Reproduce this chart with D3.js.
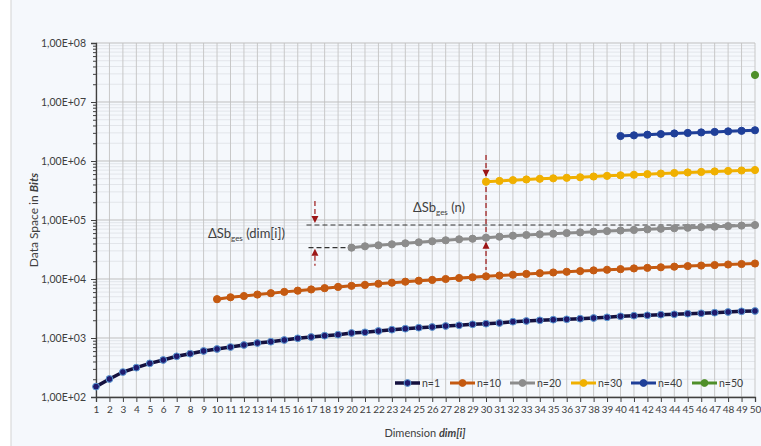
<!DOCTYPE html>
<html>
<head>
<meta charset="utf-8">
<script src="https://cdn.jsdelivr.net/npm/d3@7"></script>
<style>
  body { margin: 0; background: #fff; }
  svg text { font-family: Lato, "Open Sans", sans-serif; fill: #404040; }
</style>
</head>
<body>
<svg id="chart" width="761" height="446"></svg>
<script>
// values
const dims = d3.range(1, 51);
const n1 = [150, 202, 265, 314, 372, 424, 490, 542, 602, 651, 703, 761, 823, 865, 925, 989, 1040, 1094, 1138, 1216,
  1250, 1315, 1383, 1438, 1495, 1536, 1597, 1641, 1707, 1747, 1795, 1888, 1940, 1994, 2042, 2075, 2124, 2182, 2243, 2333,
  2388, 2426, 2484, 2523, 2583, 2624, 2685, 2760, 2836, 2870];
const n10 = [4550, 4900, 5150, 5450, 5750, 6050, 6350, 6650, 7000, 7350, 7650, 7950, 8300, 8650, 9000, 9350, 9650,
  10000, 10400, 10700, 11100, 11450, 11800, 12200, 12550, 12900, 13250, 13600, 14000, 14350, 14700, 15100, 15450,
  15800, 16200, 16550, 16900, 17250, 17600, 17950, 18300];
const n20 = [33960, 35810, 37240, 38730, 40270, 41880, 43550, 45290, 47100, 48190, 50120, 52120, 54200, 55720, 57150,
  58610, 60120, 61660, 63390, 64860, 66370, 67920, 69500, 70960, 72440, 73960, 75510, 77090, 78700, 80350, 82220];
const n30 = [445700, 459200, 473200, 486400, 498900, 508200, 518800, 529700, 545800, 559800, 572800, 584800, 598400,
  612300, 626600, 639700, 653100, 665300, 677700, 690200, 703100];
const n40 = [2650000, 2720000, 2790000, 2860000, 2930000, 2990000, 3050000, 3110000, 3180000, 3250000, 3320000];
const n50 = [28700000];
const seriesNames = ["n=1", "n=10", "n=20", "n=30", "n=40", "n=50"];
const seriesStart = [1, 10, 20, 30, 40, 50];
const seriesValues = [n1, n10, n20, n30, n40, n50];
const seriesColors = ["#15113f", "#c55a11", "#8c8c8c", "#f0b000", "#1f3f99", "#4f8f2a"];
const yTicks = [1e2, 1e3, 1e4, 1e5, 1e6, 1e7, 1e8];

const svg = d3.select("#chart");
const W = 761, H = 446;
const mLeft = 96, mRight = 755, mTop = 43, mBottom = 397;

svg.append("rect").attr("x", 0).attr("y", 0).attr("width", W).attr("height", H).attr("fill", "#fff");
svg.append("rect").attr("x", 11).attr("y", -2).attr("width", W).attr("height", H + 4)
  .attr("fill", "#f5f8fc").attr("stroke", "#d4d4d4");

const x = d3.scaleLinear().domain([1, 50]).range([mLeft, mRight]);
const y = d3.scaleLog().domain([1e2, 1e8]).range([mBottom, mTop]);

const minorVals = [];
yTicks.slice(0, -1).forEach(d => { for (let k = 2; k <= 9; k++) minorVals.push(d * k); });

// grid
const g = svg.append("g");
g.selectAll(".hminor").data(minorVals).join("line")
  .attr("x1", mLeft).attr("x2", mRight).attr("y1", d => y(d)).attr("y2", d => y(d))
  .attr("stroke", "#e2e5ea").attr("stroke-width", 1);
g.selectAll(".v").data(dims).join("line")
  .attr("x1", d => x(d)).attr("x2", d => x(d)).attr("y1", mTop).attr("y2", mBottom)
  .attr("stroke", "#c8c8c8").attr("stroke-width", 1);
g.selectAll(".hmajor").data(yTicks).join("line")
  .attr("x1", mLeft).attr("x2", mRight).attr("y1", d => y(d)).attr("y2", d => y(d))
  .attr("stroke", "#bfbfbf").attr("stroke-width", 1);

// axes
const fmt = d => "1,00E+" + String(Math.round(Math.log10(d))).padStart(2, "0");
const yAxis = svg.append("g").attr("transform", `translate(${mLeft},0)`)
  .call(d3.axisLeft(y).tickValues(yTicks).tickFormat(fmt).tickSize(5).tickPadding(5));
svg.append("g").attr("transform", `translate(${mLeft},0)`)
  .call(d3.axisLeft(y).tickValues(minorVals).tickFormat("").tickSize(3))
  .select(".domain").remove();
const xAxis = svg.append("g").attr("transform", `translate(0,${mBottom})`)
  .call(d3.axisBottom(x).tickValues(dims).tickFormat(d3.format("d")).tickSize(5).tickPadding(4));
svg.selectAll(".domain").attr("stroke", "#404040").attr("stroke-width", 1.3);
svg.selectAll(".tick line").attr("stroke", "#404040");
yAxis.selectAll("text").style("font-size", "10.5px").attr("fill", "#404040");
xAxis.selectAll("text").style("font-size", "10px").attr("fill", "#404040");

// axis titles
const xt = svg.append("text").attr("x", 425).attr("y", 437).attr("text-anchor", "middle").style("font-size", "11px");
xt.append("tspan").text("Dimension ");
xt.append("tspan").text("dim[i]").style("font-weight", "bold").style("font-style", "italic");
const yt = svg.append("text").attr("transform", "translate(38,220) rotate(-90)").attr("text-anchor", "middle")
  .style("font-size", "12px");
yt.append("tspan").text("Data Space in ");
yt.append("tspan").text("Bits").style("font-weight", "bold").style("font-style", "italic");

// annotations
const ann = svg.append("g");
const dash = (x1, y1, x2, y2, col) => ann.append("line").attr("x1", x1).attr("y1", y1).attr("x2", x2).attr("y2", y2)
  .attr("stroke", col).attr("stroke-width", 1.2).attr("stroke-dasharray", "5,3");
const arrow = (cx, tipY, dir) => ann.append("path")
  .attr("d", `M${cx - 3.5},${tipY - 7 * dir}L${cx + 3.5},${tipY - 7 * dir}L${cx},${tipY}Z`).attr("fill", "#9c1616");
const topLevel = y(n20[n20.length - 1]);
const startLevel = y(n20[0]);
dash(x(16.65), topLevel, mRight, topLevel, "#333");
dash(x(16.8), startLevel, x(20), startLevel, "#333");
const ax = x(17.28);
dash(ax, topLevel - 24, ax, topLevel - 8, "#9c1616");
arrow(ax, topLevel - 2, 1);
dash(ax, startLevel + 8, ax, startLevel + 18, "#9c1616");
arrow(ax, startLevel + 1, -1);
const bx = x(30);
dash(bx, 155, bx, 270, "#9c1616");
arrow(bx, y(n30[0]) - 5, 1);
arrow(bx, y(n20[10]) + 4, -1);

const t1 = ann.append("text").attr("x", 208).attr("y", 238).style("font-size", "13px").attr("fill", "#404040");
t1.append("tspan").text("ΔSb");
t1.append("tspan").text("ges").attr("dy", 3).style("font-size", "8px");
t1.append("tspan").text(" (dim[i])").attr("dy", -3);
const t2 = ann.append("text").attr("x", 413).attr("y", 212).style("font-size", "13px").attr("fill", "#404040");
t2.append("tspan").text("ΔSb");
t2.append("tspan").text("ges").attr("dy", 3).style("font-size", "8px");
t2.append("tspan").text(" (n)").attr("dy", -3);

// series
const line = d3.line().x(d => x(d[0])).y(d => y(d[1]));
seriesValues.forEach((vals, i) => {
  const pts = vals.map((v, j) => [seriesStart[i] + j, v]);
  const s = svg.append("g");
  if (pts.length > 1) {
    s.append("path").datum(pts).attr("d", line).attr("fill", "none")
      .attr("stroke", seriesColors[i]).attr("stroke-width", i === 0 ? 3.5 : 3);
  }
  s.selectAll("circle").data(pts).join("circle")
    .attr("cx", d => x(d[0])).attr("cy", d => y(d[1])).attr("r", i === 0 ? 3.4 : 3.6)
    .attr("fill", i === 0 ? "#1f1a6e" : seriesColors[i])
    .attr("stroke", i === 0 ? "#5b9bd5" : seriesColors[i]).attr("stroke-width", 1);
});

// legend
const legX = [395, 450, 510, 571, 631, 692];
const leg = svg.append("g");
seriesNames.forEach((name, i) => {
  const lg = leg.append("g").attr("transform", `translate(${legX[i]},383)`);
  lg.append("line").attr("x1", 0).attr("x2", 25).attr("stroke", seriesColors[i]).attr("stroke-width", i === 0 ? 3.5 : 3);
  lg.append("circle").attr("cx", 12.5).attr("r", 3.4).attr("fill", i === 0 ? "#1f1a6e" : seriesColors[i])
    .attr("stroke", i === 0 ? "#5b9bd5" : seriesColors[i]);
  lg.append("text").attr("x", 27).attr("y", 3.8).text(name).style("font-size", "10.5px");
});
</script>
</body>
</html>
